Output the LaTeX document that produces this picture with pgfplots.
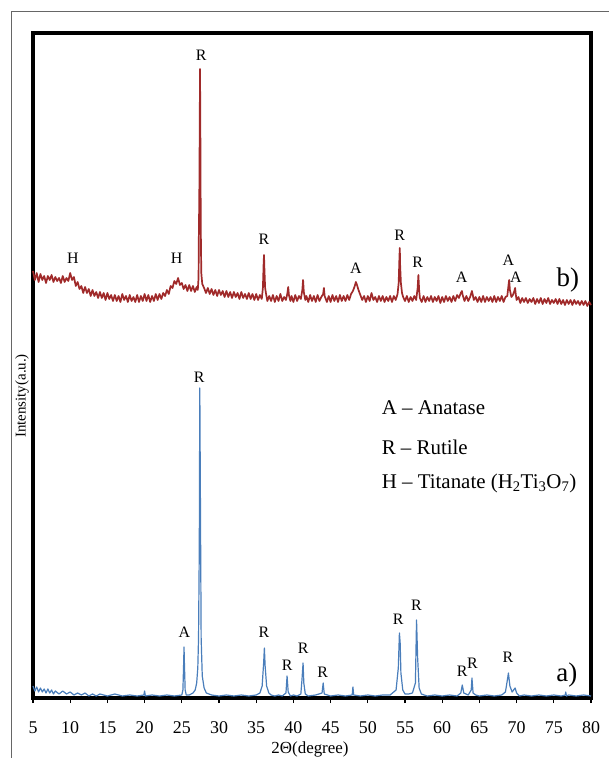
\documentclass[border=0pt]{standalone}
\usepackage{pgfplots}
\pgfplotsset{compat=1.18}
\usepackage{fontspec}
\setmainfont{Liberation Serif}
\definecolor{xrdred}{RGB}{160,42,42}
\definecolor{xrdblue}{RGB}{74,126,187}
\begin{document}
\begin{tikzpicture}
\path[use as bounding box] (0,0) rectangle (609bp,758bp);
\draw[black!60, line width=0.9bp] (11bp,-2bp) -- (11bp,747bp) -- (612bp,747bp);
\node[font=\fontsize{17}{17}\selectfont] at (310bp,9bp) {2Θ(degree)};
\node[font=\fontsize{15}{15}\selectfont, rotate=90] at (22bp,362bp) {Intensity(a.u.)};
\begin{axis}[
    at={(33bp,60bp)}, anchor=south west,
    scale only axis,
    width=558bp, height=665bp,
    xmin=5, xmax=80,
    ymin=0, ymax=665,
    xtick={5,10,...,80},
    ytick=\empty,
    xtick pos=bottom,
    tick align=outside,
    major tick length=5bp,
    every tick/.style={black, line width=1.2bp},
    axis line style={line width=3.5bp},
    /pgf/number format/assume math mode=true,
    xticklabel style={font=\fontsize{18}{18}\selectfont, yshift=-15bp},
    clip=false,
]
% b) sample
\addplot[xrdred, line width=1.7bp, line join=round] table {
x y
5.00 427
5.25 418
5.50 425
5.75 416
6.00 424
6.25 418
6.50 422
6.75 415
7.00 422
7.25 418
7.50 423
7.75 416
8.00 421
8.25 417
8.50 420
8.75 415
9.00 422
9.25 416
9.50 420
9.75 417
10.00 425
10.25 418
10.50 421
10.75 412
11.00 416
11.25 409
11.50 412
11.75 405
12.00 411
12.25 405
12.50 409
12.75 402
13.00 408
13.25 402
13.50 406
13.75 400
14.00 406
14.25 400
14.50 405
14.75 398
15.00 405
15.25 399
15.50 403
15.75 397
16.00 403
16.25 397
16.50 402
16.75 396
17.00 404
17.25 398
17.50 402
17.75 396
18.00 403
18.25 397
18.50 401
18.75 396
19.00 403
19.25 396
19.50 402
19.75 397
20.00 404
20.25 397
20.50 403
20.75 396
21.00 402
21.25 397
21.50 404
21.75 398
22.00 404
22.25 399
22.50 405
22.75 402
23.00 408
23.25 404
23.50 412
23.75 410
24.00 417
24.25 414
24.50 420
24.75 413
25.00 415
25.25 409
25.50 413
25.75 407
26.00 413
26.25 407
26.50 412
26.75 406
27.00 411
27.15 408
27.25 420
27.30 470
27.35 498
27.40 560
27.45 629
27.50 560
27.55 470
27.62 425
27.75 414
28.00 410
28.25 405
28.50 410
28.75 404
29.00 409
29.25 403
29.50 408
29.75 402
30.00 408
30.25 403
30.50 407
30.75 401
31.00 407
31.25 401
31.50 406
31.75 400
32.00 406
32.25 401
32.50 405
32.75 399
33.00 406
33.25 400
33.50 404
33.75 399
34.00 405
34.25 399
34.50 404
34.75 398
35.00 404
35.25 398
35.50 403
35.75 399
35.90 410
36.00 435
36.05 443
36.10 430
36.20 410
36.35 403
36.50 397
36.75 402
37.00 397
37.25 403
37.50 396
37.75 402
38.00 397
38.25 404
38.50 397
38.75 401
39.00 398
39.20 405
39.30 411
39.40 403
39.60 397
39.75 402
40.00 396
40.25 403
40.50 397
40.75 402
41.00 399
41.20 408
41.30 418
41.40 406
41.60 398
41.75 402
42.00 396
42.25 403
42.50 397
42.75 402
43.00 396
43.25 403
43.50 397
43.75 401
44.00 404
44.10 410
44.20 402
44.50 396
44.75 402
45.00 396
45.25 403
45.50 397
45.75 402
46.00 396
46.25 403
46.50 397
46.75 402
47.00 397
47.25 403
47.50 398
47.75 404
48.00 407
48.25 412
48.40 416
48.55 413
48.75 408
49.00 403
49.25 398
49.50 402
49.75 396
50.00 402
50.25 397
50.50 405
50.75 398
51.00 401
51.25 396
51.50 402
51.75 397
52.00 402
52.25 396
52.50 401
52.75 397
53.00 402
53.25 396
53.50 402
53.75 398
54.00 404
54.15 415
54.25 440
54.30 450
54.35 432
54.45 415
54.60 405
54.75 401
55.00 397
55.25 402
55.50 396
55.75 401
56.00 397
56.25 402
56.50 398
56.70 410
56.80 423
56.90 408
57.00 400
57.25 396
57.50 402
57.75 396
58.00 401
58.25 397
58.50 402
58.75 396
59.00 401
59.25 397
59.50 402
59.75 395
60.00 401
60.25 396
60.50 402
60.75 397
61.00 401
61.25 396
61.50 402
61.75 397
62.00 403
62.25 400
62.50 405
62.65 407
62.75 403
63.00 397
63.25 402
63.50 397
63.75 401
64.00 407
64.25 398
64.50 401
64.75 396
65.00 401
65.25 396
65.50 402
65.75 396
66.00 401
66.25 397
66.50 401
66.75 396
67.00 402
67.25 396
67.50 401
67.75 397
68.00 402
68.25 396
68.50 401
68.75 402
68.90 412
69.00 418
69.10 408
69.30 401
69.50 403
69.70 407
69.80 410
69.90 403
70.00 398
70.25 401
70.50 395
70.75 400
71.00 396
71.25 400
71.50 395
71.75 399
72.00 396
72.25 400
72.50 394
72.75 399
73.00 395
73.25 400
73.50 394
73.75 399
74.00 395
74.25 400
74.50 394
74.75 398
75.00 395
75.25 399
75.50 394
75.75 399
76.00 394
76.25 398
76.50 393
76.75 398
77.00 394
77.25 398
77.50 393
77.75 398
78.00 394
78.25 397
78.50 393
78.75 397
79.00 393
79.25 397
79.50 392
79.75 396
80.00 393
};
% a) sample
\addplot[xrdblue, line width=1.2bp, line join=round] table {
x y
5.00 12
5.25 7
5.50 11
5.75 6
6.00 10
6.25 6
6.50 9
6.75 5
7.00 9
7.25 5
7.50 8
7.75 4
8.00 7
8.50 4
9.00 7
9.50 4
10.00 6
10.50 3
11.00 5
11.50 3
12.00 5
12.50 2
13.00 4
13.50 2
14.00 4
15.00 2
16.00 4
17.00 2
18.00 3
19.00 2
19.90 3
20.00 7
20.10 2
21.00 3
22.00 2
23.00 3
24.00 2
25.00 3
25.15 8
25.25 35
25.30 51
25.35 35
25.45 8
25.60 3
26.00 3
26.50 5
26.80 8
27.00 15
27.15 30
27.25 60
27.35 150
27.42 310
27.50 200
27.60 60
27.75 22
28.00 10
28.30 5
29.00 3
30.00 2
31.00 3
32.00 2
33.00 3
34.00 2
35.00 3
35.50 5
35.80 12
36.00 35
36.10 50
36.20 32
36.40 12
36.70 5
37.00 3
37.50 2
38.00 3
38.50 2
39.00 5
39.15 22
39.30 6
39.60 2
40.00 3
40.50 2
41.00 4
41.15 18
41.30 35
41.40 15
41.60 4
42.00 2
43.00 3
43.85 5
44.00 15
44.15 4
45.00 2
46.00 3
47.00 2
47.90 3
48.00 11
48.10 3
49.00 2
50.00 3
51.00 2
52.00 3
53.00 3
53.80 8
54.10 30
54.25 65
54.35 55
54.45 25
54.70 8
55.00 4
55.50 4
56.00 5
56.40 15
56.55 78
56.70 40
56.90 10
57.20 4
58.00 2
59.00 3
60.00 2
61.00 3
62.00 2
62.50 5
62.70 13
62.90 5
63.50 3
63.90 8
64.00 20
64.15 5
64.50 3
65.00 2
66.00 3
67.00 2
68.00 3
68.50 6
68.80 20
68.90 25
69.10 12
69.40 6
69.60 8
69.80 10
70.00 5
70.40 2
71.00 3
72.00 2
73.00 3
74.00 2
75.00 3
76.00 2
76.55 3
76.60 6
76.70 2
77.00 3
78.00 2
79.00 3
80.00 2
};
% peak labels, b)
\begin{scope}[every node/.style={font=\fontsize{16}{16}\selectfont, inner sep=0pt}]
\node at (axis cs:10.35,440) {H};
\node at (axis cs:24.3,440) {H};
\node at (axis cs:27.6,643) {R};
\node at (axis cs:36.05,459) {R};
\node at (axis cs:48.4,430) {A};
\node at (axis cs:54.3,463) {R};
\node at (axis cs:56.7,436) {R};
\node at (axis cs:62.6,421) {A};
\node at (axis cs:68.9,438) {A};
\node at (axis cs:69.9,421) {A};
% peak labels, a)
\node at (axis cs:27.35,321) {R};
\node at (axis cs:25.35,66) {A};
\node at (axis cs:36.05,66) {R};
\node at (axis cs:39.15,33) {R};
\node at (axis cs:41.3,50) {R};
\node at (axis cs:43.95,26) {R};
\node at (axis cs:54.1,79) {R};
\node at (axis cs:56.55,93) {R};
\node at (axis cs:62.7,27) {R};
\node at (axis cs:64.05,35) {R};
\node at (axis cs:68.85,41) {R};
\end{scope}
\node[font=\fontsize{27}{27}\selectfont, inner sep=0pt] at (axis cs:76.9,418) {b)};
\node[font=\fontsize{27}{27}\selectfont, inner sep=0pt] at (axis cs:76.75,23) {a)};
\begin{scope}[every node/.style={font=\fontsize{21}{21}\selectfont, anchor=west, inner sep=0pt}]
\node at (axis cs:51.85,290) {A – Anatase};
\node at (axis cs:51.85,251) {R – Rutile};
\node at (axis cs:51.85,215) {H – Titanate (H\textsubscript{2}Ti\textsubscript{3}O\textsubscript{7})};
\end{scope}
\end{axis}
\end{tikzpicture}
\end{document}
